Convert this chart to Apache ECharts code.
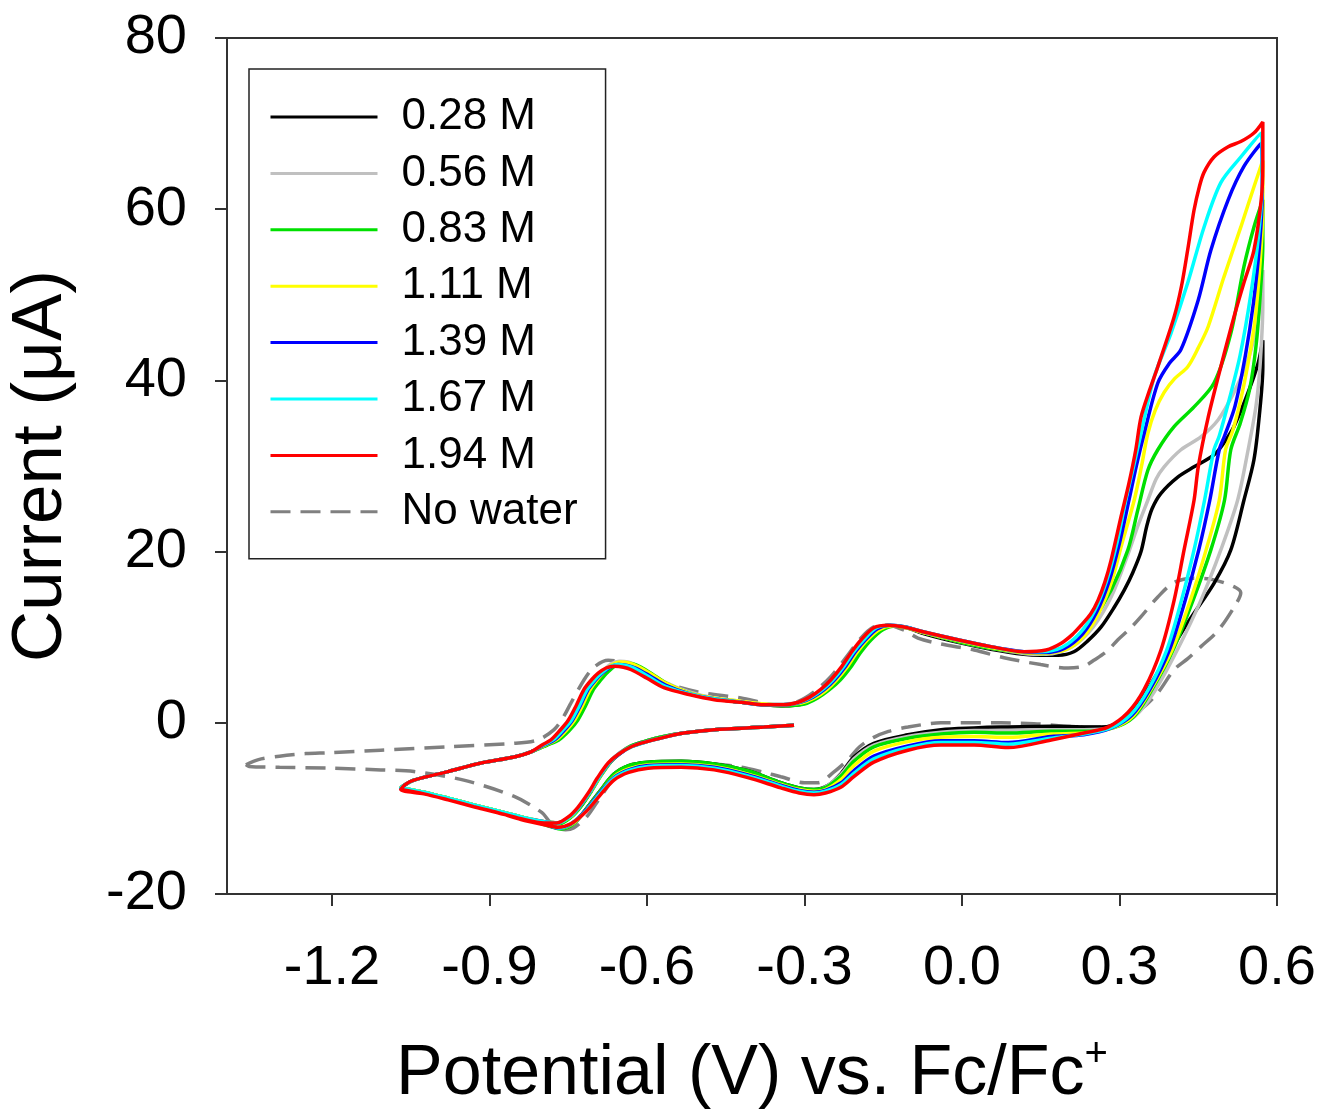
<!DOCTYPE html>
<html>
<head>
<meta charset="utf-8">
<script src="https://cdn.jsdelivr.net/npm/echarts@6/dist/echarts.min.js"></script>
<style>
html,body{margin:0;padding:0;background:#fff;}
#chart{width:1321px;height:1112px;}
</style>
</head>
<body>
<div id="chart"></div>
<script>
// ---------- data (Potential V, Current uA) ----------
const seriesNames = ['0.28 M','0.56 M','0.83 M','1.11 M','1.39 M','1.67 M','1.94 M','No water'];
const seriesColors = ['#000000','#c0c0c0','#00e000','#ffff00','#0000ff','#00ffff','#ff0000','#808080'];
const xTickValues = [-1.2,-0.9,-0.6,-0.3,0.0,0.3,0.6];

const cv028 = [
[-0.320,-0.3],[-0.377,-0.5],[-0.472,-0.8],[-0.530,-1.2],[-0.568,-1.6],[-0.600,-2.1],[-0.630,-2.7],[-0.651,-3.5],[-0.669,-4.5],[-0.689,-6.2],[-0.707,-8.0],[-0.727,-9.8],[-0.745,-11.0],[-0.768,-11.7],[-0.792,-11.6],[-0.840,-11.0],[-0.884,-10.3],[-0.930,-9.6],[-0.979,-8.8],[-1.025,-8.1],[-1.069,-7.6],
[-1.060,-7.2],[-1.044,-6.7],[-0.979,-5.7],[-0.916,-4.7],[-0.853,-4.0],[-0.821,-3.4],[-0.792,-2.6],[-0.771,-2.0],[-0.752,-0.9],[-0.736,0.3],[-0.721,2.0],[-0.706,3.9],[-0.692,5.0],[-0.679,5.9],[-0.664,6.7],[-0.649,7.0],[-0.632,6.9],[-0.616,6.5],[-0.590,5.6],[-0.561,4.5],[-0.520,3.5],[-0.472,2.8],[-0.420,2.4],[-0.377,2.1],[-0.340,2.0],[-0.304,2.2],[-0.279,2.9],[-0.256,3.9],[-0.236,5.0],[-0.216,6.5],[-0.196,8.3],[-0.177,9.7],[-0.155,10.9],[-0.132,11.3],[-0.105,11.1],[-0.072,10.4],[-0.008,9.4],[0.055,8.6],[0.118,8.0],
[0.150,7.9],[0.183,7.9],[0.213,8.3],[0.240,9.6],[0.265,11.2],[0.290,13.5],[0.309,15.5],[0.325,17.5],[0.341,20.0],[0.352,23.0],[0.362,25.0],[0.379,26.8],[0.411,28.7],[0.442,29.9],[0.480,31.3],[0.500,32.8],[0.518,34.6],[0.545,38.6],[0.564,42.0],[0.573,44.7],
[0.573,41.6],[0.566,35.7],[0.556,30.7],[0.537,26.0],[0.512,20.2],[0.480,16.3],[0.430,11.7],[0.379,6.5],[0.341,2.7],[0.309,0.3],[0.265,-0.5],[0.170,-0.4],[0.074,-0.5],[0.023,-0.6],[-0.040,-0.8],[-0.103,-1.4],[-0.168,-2.4],[-0.206,-4.0],[-0.230,-5.9],[-0.255,-7.3],[-0.282,-7.8],[-0.310,-7.6],[-0.345,-7.0],[-0.408,-5.6],[-0.472,-4.8],[-0.535,-4.5],[-0.598,-4.6],[-0.635,-5.0],[-0.663,-6.0],[-0.690,-8.0],[-0.715,-10.0],[-0.740,-11.8],[-0.765,-12.3],[-0.796,-11.8],[-0.840,-11.0],[-0.884,-10.3],[-0.930,-9.6],[-0.979,-8.8],[-1.025,-8.1],[-1.069,-7.6]
];

const cv056 = [
[-0.320,-0.3],[-0.377,-0.5],[-0.472,-0.8],[-0.530,-1.2],[-0.568,-1.6],[-0.600,-2.1],[-0.630,-2.7],[-0.652,-3.5],[-0.670,-4.5],[-0.690,-6.2],[-0.708,-8.0],[-0.728,-9.8],[-0.746,-11.0],[-0.769,-11.7],[-0.793,-11.6],[-0.840,-11.0],[-0.884,-10.3],[-0.930,-9.6],[-0.979,-8.8],[-1.025,-8.1],[-1.069,-7.6],
[-1.060,-7.2],[-1.044,-6.7],[-0.979,-5.7],[-0.916,-4.7],[-0.853,-4.0],[-0.821,-3.4],[-0.795,-2.6],[-0.774,-2.0],[-0.756,-0.9],[-0.740,0.3],[-0.725,2.0],[-0.710,3.9],[-0.696,5.1],[-0.683,6.1],[-0.668,6.9],[-0.653,7.2],[-0.636,7.1],[-0.620,6.7],[-0.593,5.8],[-0.564,4.7],[-0.520,3.6],[-0.472,2.9],[-0.420,2.5],[-0.377,2.2],[-0.340,2.2],[-0.309,2.4],[-0.284,3.0],[-0.262,3.9],[-0.243,5.0],[-0.223,6.5],[-0.203,8.3],[-0.184,9.7],[-0.160,11.0],[-0.136,11.4],[-0.107,11.2],[-0.072,10.5],[-0.008,9.5],[0.055,8.7],[0.118,8.1],
[0.160,8.0],[0.210,8.9],[0.250,11.2],[0.285,14.8],[0.315,19.5],[0.335,23.0],[0.354,26.0],[0.370,28.5],[0.385,29.9],[0.417,31.9],[0.455,33.4],[0.488,35.4],[0.518,38.6],[0.545,42.4],[0.564,47.4],[0.573,52.9],
[0.573,49.0],[0.568,42.0],[0.560,37.0],[0.545,31.9],[0.525,26.0],[0.493,20.2],[0.455,14.3],[0.410,8.5],[0.366,3.6],[0.330,0.8],[0.290,-0.5],[0.232,-0.8],[0.170,-0.8],[0.088,-0.9],[0.023,-0.9],[-0.040,-1.1],[-0.103,-1.6],[-0.168,-2.6],[-0.206,-4.2],[-0.230,-6.0],[-0.258,-7.4],[-0.283,-7.9],[-0.310,-7.7],[-0.345,-7.1],[-0.408,-5.8],[-0.472,-4.9],[-0.535,-4.6],[-0.598,-4.7],[-0.635,-5.1],[-0.663,-6.1],[-0.690,-8.1],[-0.715,-10.1],[-0.740,-11.8],[-0.765,-12.3],[-0.796,-11.8],[-0.840,-11.0],[-0.884,-10.3],[-0.930,-9.6],[-0.979,-8.8],[-1.025,-8.1],[-1.069,-7.6]
];

const cv083 = [
[-0.320,-0.3],[-0.377,-0.5],[-0.472,-0.8],[-0.530,-1.2],[-0.568,-1.6],[-0.600,-2.1],[-0.630,-2.7],[-0.650,-3.5],[-0.668,-4.5],[-0.688,-6.2],[-0.706,-8.0],[-0.726,-9.8],[-0.744,-11.0],[-0.767,-11.8],[-0.791,-11.7],[-0.840,-11.0],[-0.884,-10.3],[-0.930,-9.6],[-0.979,-8.8],[-1.025,-8.1],[-1.069,-7.6],
[-1.060,-7.2],[-1.044,-6.7],[-0.979,-5.7],[-0.916,-4.7],[-0.853,-4.0],[-0.821,-3.4],[-0.790,-2.6],[-0.768,-2.0],[-0.748,-0.9],[-0.732,0.3],[-0.717,2.0],[-0.702,3.9],[-0.688,5.0],[-0.675,5.9],[-0.660,6.7],[-0.645,7.0],[-0.628,6.9],[-0.612,6.5],[-0.588,5.6],[-0.560,4.5],[-0.520,3.5],[-0.472,2.8],[-0.420,2.4],[-0.377,2.1],[-0.340,2.0],[-0.300,2.2],[-0.275,2.9],[-0.252,3.9],[-0.232,5.0],[-0.212,6.5],[-0.192,8.3],[-0.173,9.7],[-0.150,10.9],[-0.128,11.3],[-0.103,11.1],[-0.072,10.5],[-0.008,9.5],[0.055,8.7],[0.118,8.2],
[0.156,8.1],[0.208,9.2],[0.246,11.7],[0.284,15.5],[0.316,20.2],[0.335,24.9],[0.354,29.5],[0.373,31.9],[0.404,34.6],[0.442,36.9],[0.480,39.7],[0.512,45.5],[0.537,53.3],[0.556,57.9],[0.573,61.1],
[0.573,56.0],[0.568,50.0],[0.560,44.0],[0.548,39.0],[0.530,35.0],[0.512,31.9],[0.500,26.0],[0.474,20.2],[0.440,14.3],[0.402,8.5],[0.362,3.9],[0.327,0.7],[0.288,-0.6],[0.232,-1.0],[0.170,-1.0],[0.088,-1.2],[0.023,-1.1],[-0.040,-1.3],[-0.103,-1.8],[-0.168,-2.8],[-0.206,-4.5],[-0.230,-6.2],[-0.258,-7.5],[-0.282,-7.8],[-0.310,-7.6],[-0.345,-7.0],[-0.408,-5.6],[-0.472,-4.8],[-0.535,-4.5],[-0.598,-4.6],[-0.635,-5.0],[-0.663,-6.0],[-0.690,-8.0],[-0.715,-10.0],[-0.740,-11.8],[-0.765,-12.4],[-0.796,-11.9],[-0.840,-11.0],[-0.884,-10.3],[-0.930,-9.6],[-0.979,-8.8],[-1.025,-8.1],[-1.069,-7.6]
];

const cv111 = [
[-0.320,-0.3],[-0.377,-0.5],[-0.472,-0.8],[-0.530,-1.2],[-0.568,-1.7],[-0.600,-2.2],[-0.630,-2.8],[-0.652,-3.6],[-0.670,-4.6],[-0.690,-6.3],[-0.708,-8.1],[-0.728,-9.8],[-0.746,-11.0],[-0.769,-11.7],[-0.793,-11.6],[-0.840,-11.0],[-0.884,-10.3],[-0.930,-9.6],[-0.979,-8.8],[-1.025,-8.1],[-1.069,-7.6],
[-1.060,-7.2],[-1.044,-6.7],[-0.979,-5.7],[-0.916,-4.7],[-0.853,-4.0],[-0.821,-3.4],[-0.794,-2.6],[-0.773,-2.0],[-0.754,-0.9],[-0.738,0.3],[-0.723,2.0],[-0.708,3.9],[-0.694,5.1],[-0.681,6.0],[-0.666,6.8],[-0.651,7.1],[-0.634,7.0],[-0.618,6.6],[-0.592,5.7],[-0.563,4.6],[-0.520,3.5],[-0.472,2.9],[-0.420,2.5],[-0.377,2.2],[-0.340,2.1],[-0.306,2.3],[-0.281,2.9],[-0.259,3.8],[-0.239,5.0],[-0.219,6.5],[-0.199,8.3],[-0.180,9.7],[-0.157,10.9],[-0.134,11.3],[-0.106,11.1],[-0.072,10.5],[-0.008,9.6],[0.055,8.8],[0.118,8.2],
[0.150,8.1],[0.200,8.6],[0.235,10.3],[0.262,13.0],[0.285,16.5],[0.305,21.0],[0.328,26.0],[0.342,30.0],[0.354,33.8],[0.368,36.5],[0.385,38.6],[0.405,40.2],[0.430,41.6],[0.450,43.8],[0.469,46.3],[0.499,52.1],[0.531,57.9],[0.556,62.6],[0.573,65.7],
[0.573,60.0],[0.568,54.0],[0.558,47.0],[0.545,42.0],[0.530,37.5],[0.515,34.0],[0.502,31.9],[0.490,26.0],[0.465,20.2],[0.435,14.3],[0.400,8.5],[0.360,3.9],[0.326,0.8],[0.287,-0.6],[0.232,-1.2],[0.170,-1.3],[0.088,-1.7],[0.023,-1.6],[-0.040,-1.7],[-0.103,-2.2],[-0.168,-3.3],[-0.206,-5.0],[-0.230,-6.6],[-0.260,-7.8],[-0.282,-8.0],[-0.310,-7.8],[-0.345,-7.2],[-0.408,-6.0],[-0.472,-5.1],[-0.535,-4.8],[-0.598,-4.9],[-0.635,-5.4],[-0.663,-6.3],[-0.690,-8.2],[-0.715,-10.1],[-0.742,-11.8],[-0.767,-12.3],[-0.796,-11.8],[-0.840,-11.0],[-0.884,-10.3],[-0.930,-9.6],[-0.979,-8.8],[-1.025,-8.1],[-1.069,-7.6]
];

const cv139 = [
[-0.320,-0.3],[-0.377,-0.5],[-0.472,-0.8],[-0.530,-1.2],[-0.568,-1.7],[-0.600,-2.2],[-0.630,-2.8],[-0.654,-3.7],[-0.672,-4.7],[-0.692,-6.4],[-0.710,-8.2],[-0.730,-9.9],[-0.748,-11.0],[-0.770,-11.7],[-0.794,-11.6],[-0.840,-11.1],[-0.884,-10.4],[-0.930,-9.7],[-0.979,-8.9],[-1.025,-8.2],[-1.069,-7.7],
[-1.060,-7.2],[-1.044,-6.7],[-0.979,-5.7],[-0.916,-4.7],[-0.853,-4.0],[-0.821,-3.4],[-0.796,-2.6],[-0.776,-2.0],[-0.758,-0.9],[-0.742,0.3],[-0.727,2.0],[-0.712,3.9],[-0.698,5.0],[-0.685,5.8],[-0.670,6.5],[-0.655,6.8],[-0.638,6.7],[-0.622,6.4],[-0.595,5.5],[-0.565,4.4],[-0.520,3.4],[-0.472,2.8],[-0.420,2.4],[-0.377,2.1],[-0.340,2.1],[-0.308,2.4],[-0.284,3.0],[-0.262,3.9],[-0.243,5.0],[-0.223,6.5],[-0.203,8.3],[-0.184,9.7],[-0.161,11.0],[-0.137,11.4],[-0.107,11.2],[-0.072,10.6],[-0.008,9.7],[0.055,8.9],[0.118,8.3],
[0.155,8.2],[0.195,8.7],[0.230,10.4],[0.257,13.0],[0.280,16.5],[0.300,21.0],[0.318,26.0],[0.332,30.0],[0.347,33.8],[0.373,39.7],[0.395,42.0],[0.417,43.6],[0.450,49.4],[0.474,55.2],[0.507,61.1],[0.537,65.0],[0.570,67.7],
[0.572,62.0],[0.567,56.0],[0.555,49.0],[0.540,43.0],[0.520,37.0],[0.500,33.5],[0.490,31.9],[0.472,26.0],[0.451,20.2],[0.425,14.3],[0.395,8.5],[0.358,3.9],[0.324,0.9],[0.285,-0.6],[0.232,-1.4],[0.170,-1.6],[0.088,-2.3],[0.023,-2.1],[-0.040,-2.1],[-0.103,-2.7],[-0.168,-3.9],[-0.206,-5.6],[-0.230,-7.0],[-0.260,-7.9],[-0.282,-8.1],[-0.310,-7.9],[-0.345,-7.3],[-0.408,-6.1],[-0.472,-5.2],[-0.535,-4.9],[-0.598,-5.0],[-0.635,-5.5],[-0.663,-6.4],[-0.690,-8.2],[-0.715,-10.1],[-0.744,-11.8],[-0.768,-12.3],[-0.796,-11.8],[-0.840,-11.1],[-0.884,-10.4],[-0.930,-9.7],[-0.979,-8.9],[-1.025,-8.2],[-1.069,-7.7]
];

const cv167 = [
[-0.320,-0.3],[-0.377,-0.5],[-0.472,-0.8],[-0.530,-1.2],[-0.568,-1.7],[-0.600,-2.2],[-0.630,-2.8],[-0.653,-3.6],[-0.671,-4.6],[-0.691,-6.3],[-0.709,-8.1],[-0.729,-9.8],[-0.747,-11.0],[-0.770,-11.7],[-0.794,-11.6],[-0.840,-11.0],[-0.884,-10.3],[-0.930,-9.6],[-0.979,-8.8],[-1.025,-8.1],[-1.069,-7.6],
[-1.060,-7.2],[-1.044,-6.7],[-0.979,-5.7],[-0.916,-4.7],[-0.853,-4.0],[-0.821,-3.4],[-0.798,-2.6],[-0.779,-2.0],[-0.761,-0.9],[-0.744,0.3],[-0.729,2.0],[-0.714,3.9],[-0.700,5.0],[-0.687,5.8],[-0.672,6.5],[-0.657,6.8],[-0.640,6.7],[-0.625,6.4],[-0.597,5.4],[-0.566,4.3],[-0.520,3.4],[-0.472,2.8],[-0.420,2.4],[-0.377,2.1],[-0.340,2.1],[-0.310,2.4],[-0.287,3.0],[-0.265,3.9],[-0.246,5.0],[-0.226,6.5],[-0.206,8.3],[-0.187,9.7],[-0.163,11.1],[-0.138,11.4],[-0.108,11.2],[-0.072,10.6],[-0.008,9.7],[0.055,8.9],[0.118,8.3],
[0.150,8.3],[0.190,8.8],[0.225,10.5],[0.252,13.0],[0.275,16.5],[0.295,21.0],[0.312,26.0],[0.327,30.0],[0.341,33.8],[0.366,40.4],[0.398,45.5],[0.430,51.4],[0.461,57.9],[0.493,63.1],[0.531,66.1],[0.570,68.9],
[0.572,63.0],[0.565,57.0],[0.550,50.0],[0.530,43.0],[0.510,38.0],[0.490,33.5],[0.480,31.9],[0.462,26.0],[0.442,20.2],[0.418,14.3],[0.390,8.5],[0.355,3.9],[0.322,1.0],[0.283,-0.6],[0.232,-1.3],[0.170,-1.8],[0.088,-2.5],[0.023,-2.3],[-0.040,-2.3],[-0.103,-2.9],[-0.168,-4.2],[-0.206,-5.9],[-0.230,-7.2],[-0.260,-8.0],[-0.282,-8.2],[-0.310,-8.0],[-0.345,-7.4],[-0.408,-6.2],[-0.472,-5.3],[-0.535,-5.0],[-0.598,-5.1],[-0.635,-5.6],[-0.663,-6.5],[-0.690,-8.3],[-0.715,-10.2],[-0.745,-11.8],[-0.768,-12.3],[-0.796,-11.8],[-0.840,-11.0],[-0.884,-10.3],[-0.930,-9.6],[-0.979,-8.8],[-1.025,-8.1],[-1.069,-7.6]
];

const cv194 = [
[-0.320,-0.3],[-0.377,-0.5],[-0.472,-0.8],[-0.530,-1.2],[-0.568,-1.7],[-0.600,-2.2],[-0.630,-2.8],[-0.655,-3.7],[-0.674,-4.7],[-0.694,-6.4],[-0.712,-8.2],[-0.732,-9.9],[-0.750,-11.0],[-0.772,-11.7],[-0.796,-11.7],[-0.840,-11.2],[-0.884,-10.5],[-0.930,-9.8],[-0.979,-9.0],[-1.025,-8.3],[-1.069,-7.8],
[-1.060,-7.2],[-1.044,-6.7],[-0.979,-5.7],[-0.916,-4.7],[-0.853,-4.0],[-0.821,-3.4],[-0.800,-2.6],[-0.783,-2.0],[-0.766,-0.9],[-0.750,0.3],[-0.735,2.0],[-0.720,3.9],[-0.706,5.0],[-0.693,5.8],[-0.678,6.4],[-0.663,6.6],[-0.645,6.5],[-0.630,6.2],[-0.600,5.2],[-0.568,4.1],[-0.520,3.3],[-0.472,2.7],[-0.420,2.4],[-0.377,2.1],[-0.340,2.1],[-0.312,2.4],[-0.290,3.0],[-0.269,3.9],[-0.250,5.0],[-0.230,6.5],[-0.210,8.3],[-0.192,9.7],[-0.168,11.1],[-0.141,11.4],[-0.110,11.2],[-0.072,10.6],[-0.008,9.7],[0.055,8.9],[0.118,8.3],
[0.160,8.5],[0.189,9.3],[0.210,10.3],[0.227,11.4],[0.245,12.7],[0.259,14.3],[0.272,16.4],[0.284,19.0],[0.303,24.1],[0.318,28.0],[0.331,31.9],[0.341,35.7],[0.357,38.8],[0.373,41.6],[0.404,47.4],[0.418,51.0],[0.430,55.3],[0.442,59.9],[0.452,62.6],[0.461,64.3],[0.480,66.1],[0.507,67.3],[0.531,67.9],[0.556,68.9],[0.573,70.2],
[0.573,65.0],[0.570,61.1],[0.556,55.2],[0.537,51.4],[0.518,47.4],[0.493,41.6],[0.469,35.7],[0.450,29.9],[0.442,26.0],[0.423,20.2],[0.404,14.3],[0.379,8.5],[0.347,3.9],[0.316,1.2],[0.278,-0.5],[0.232,-1.2],[0.170,-2.0],[0.088,-2.9],[0.023,-2.6],[-0.040,-2.6],[-0.103,-3.2],[-0.168,-4.6],[-0.206,-6.3],[-0.230,-7.5],[-0.260,-8.2],[-0.282,-8.4],[-0.310,-8.2],[-0.345,-7.6],[-0.408,-6.4],[-0.472,-5.5],[-0.535,-5.2],[-0.598,-5.3],[-0.635,-5.8],[-0.663,-6.7],[-0.690,-8.5],[-0.715,-10.3],[-0.745,-11.8],[-0.770,-12.2],[-0.796,-11.9],[-0.840,-11.3],[-0.884,-10.5],[-0.930,-9.8],[-0.979,-9.0],[-1.025,-8.3],[-1.069,-7.8]
];

const cvNoWater = [
[-1.364,-4.9],[-1.340,-4.3],[-1.300,-3.9],[-1.250,-3.6],[-1.206,-3.5],[-1.107,-3.2],[-0.979,-2.8],[-0.853,-2.4],[-0.808,-2.0],[-0.777,-0.8],[-0.760,0.6],[-0.745,2.3],[-0.720,5.0],[-0.701,6.5],[-0.674,7.3],[-0.650,7.1],[-0.610,5.8],[-0.568,4.7],[-0.503,3.6],[-0.421,2.9],[-0.377,2.3],[-0.345,2.0],[-0.312,2.5],[-0.280,3.7],[-0.250,5.4],[-0.220,7.7],[-0.194,9.8],[-0.168,11.2],[-0.141,11.4],[-0.110,10.8],[-0.084,9.9],[-0.040,9.2],[0.023,8.5],[0.080,7.6],[0.150,6.8],[0.202,6.4],[0.232,6.6],[0.251,7.3],[0.275,8.3],[0.297,9.7],[0.320,11.0],[0.341,12.4],[0.373,14.7],[0.404,16.4],[0.442,16.9],[0.480,16.7],[0.518,15.9],[0.531,15.2],
[0.518,13.5],[0.488,10.8],[0.455,8.9],[0.430,7.5],[0.404,6.2],[0.373,3.5],[0.347,1.9],[0.316,0.7],[0.284,-0.3],[0.232,-0.5],[0.137,-0.1],[0.074,0.0],[-0.040,0.0],[-0.103,-0.5],[-0.140,-1.0],[-0.168,-1.7],[-0.195,-2.8],[-0.217,-4.3],[-0.245,-5.8],[-0.274,-7.0],[-0.300,-7.0],[-0.345,-6.3],[-0.377,-5.8],[-0.420,-5.2],[-0.472,-4.8],[-0.535,-4.6],[-0.598,-4.6],[-0.630,-5.0],[-0.663,-6.5],[-0.690,-8.8],[-0.715,-11.0],[-0.740,-12.3],[-0.755,-12.5],[-0.770,-12.3],[-0.785,-11.6],[-0.800,-10.5],[-0.853,-8.6],[-0.949,-6.7],[-1.044,-5.7],[-1.107,-5.5],[-1.206,-5.3],[-1.300,-5.2],[-1.358,-5.1],[-1.364,-4.9]
];

const seriesData = [cv028, cv056, cv083, cv111, cv139, cv167, cv194, cvNoWater];

// ---------- chart ----------
const FONT = "'Liberation Sans', Arial, sans-serif";
const chart = echarts.init(document.getElementById('chart'), null, {renderer: 'canvas'});

const series = seriesData.map((d, i) => {
  const dashed = i === 7;
  return {
    name: seriesNames[i],
    type: 'line',
    data: d,
    showSymbol: false,
    symbol: 'none',
    smooth: 0.3,
    z: dashed ? 2 : 3 + i,
    lineStyle: {
      color: seriesColors[i],
      width: 3.5,
      type: dashed ? [20, 10] : 'solid'
    },
    itemStyle: { color: seriesColors[i] }
  };
});

chart.setOption({
  animation: false,
  backgroundColor: '#fff',
  grid: {
    left: 227, right: 44, top: 38, bottom: 218,
    containLabel: false,
    outerBoundsMode: 'none',
    show: true, borderColor: '#333', borderWidth: 2, backgroundColor: 'transparent'
  },
  legend: {
    orient: 'vertical',
    left: 249, top: 69,
    padding: [26, 28, 25, 20],
    itemWidth: 107, itemHeight: 14, itemGap: 12.4,
    borderColor: '#222', borderWidth: 1.5,
    itemStyle: { opacity: 0 },
    lineStyle: { width: 3 },
    textStyle: { fontSize: 44, fontFamily: FONT, color: '#000', lineHeight: 44, padding: [0, 0, 0, 19] },
    data: seriesNames
  },
  xAxis: {
    type: 'value',
    min: -1.4, max: 0.6,
    name: '{t|Potential (V) vs. Fc/Fc}{s|+}',
    nameLocation: 'middle',
    nameGap: 141,
    nameTextStyle: {
      rich: {
        t: { fontSize: 70, fontFamily: FONT, color: '#000', lineHeight: 80 },
        s: { fontSize: 40, fontFamily: FONT, color: '#000', verticalAlign: 'top', lineHeight: 40 }
      }
    },
    axisLine: { show: true, onZero: false, lineStyle: { color: '#333', width: 2 } },
    axisTick: { show: true, inside: false, length: 12, customValues: xTickValues, lineStyle: { color: '#333', width: 2 } },
    axisLabel: {
      customValues: xTickValues,
      margin: 47,
      fontSize: 56, fontFamily: FONT, color: '#000',
      formatter: v => v.toFixed(1)
    },
    splitLine: { show: false }
  },
  yAxis: {
    type: 'value',
    min: -20, max: 80, interval: 20,
    name: 'Current (μA)',
    nameLocation: 'middle',
    nameGap: 150,
    nameTextStyle: { fontSize: 71, fontFamily: FONT, color: '#000' },
    axisLine: { show: true, onZero: false, lineStyle: { color: '#333', width: 2 } },
    axisTick: { show: true, inside: false, length: 12, lineStyle: { color: '#333', width: 2 } },
    axisLabel: { margin: 40, fontSize: 56, fontFamily: FONT, color: '#000' },
    splitLine: { show: false }
  },
  series: series
});
</script>
</body>
</html>
